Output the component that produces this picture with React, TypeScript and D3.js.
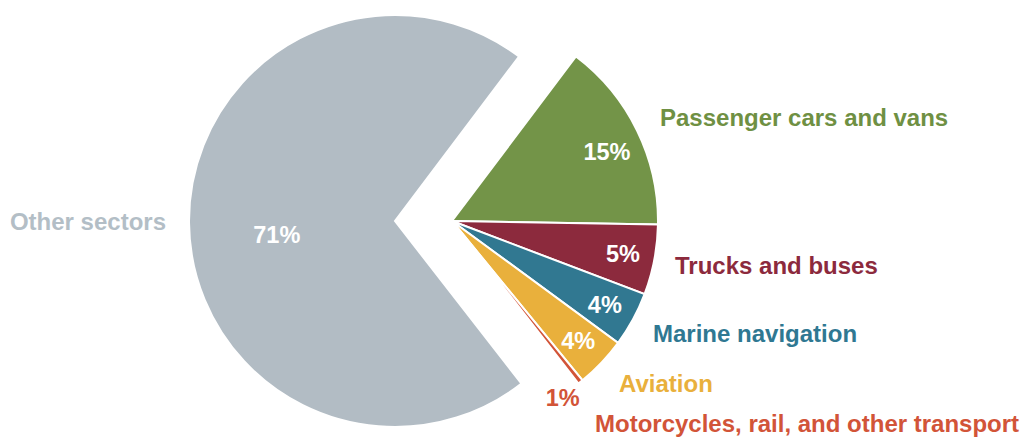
import React, { useEffect, useRef } from 'react';
import * as d3 from 'd3';

const categories = [
  'Passenger cars and vans',
  'Trucks and buses',
  'Marine navigation',
  'Aviation',
  'Motorcycles, rail, and other transport',
  'Other sectors',
];
const values = [15.0, 5.5, 4.3, 4.0, 0.4, 70.8];
const pctLabels = ['15%', '5%', '4%', '4%', '1%', '71%'];
const colors = ['#739448', '#8c2a3d', '#317891', '#e9b03c', '#d25438', '#b2bcc4'];
const textColors = ['#6f9043', '#8c2a3d', '#2f7892', '#e9b03c', '#d25438', '#b3bec6'];

const W = 1030;
const H = 437;

const App: React.FC = () => {
  const svgRef = useRef<SVGSVGElement>(null);

  useEffect(() => {
    if (!svgRef.current) return;
    const svg = d3.select(svgRef.current);
    svg.selectAll('*').remove();

    const cx = 395;
    const cy = 221;
    const r = 206;
    const explode = 57; // transport slices pulled out to the right

    const startDeg = 37;
    const pie = d3.pie<number>()
      .sort(null)
      .value(d => d)
      .startAngle((startDeg * Math.PI) / 180)
      .endAngle((startDeg * Math.PI) / 180 + Math.PI * 2);
    const arcs = pie(values);

    const arc = d3.arc<d3.PieArcDatum<number>>().innerRadius(0).outerRadius(r);

    const isOther = (i: number) => i === values.length - 1;

    const g = svg.append('g');

    g.selectAll('path.slice')
      .data(arcs)
      .join('path')
      .attr('class', 'slice')
      .attr('transform', (_, i) => `translate(${cx + (isOther(i) ? 0 : explode)},${cy})`)
      .attr('d', arc)
      .attr('fill', (_, i) => colors[i])
      .attr('stroke', '#fff')
      .attr('stroke-width', 2)
      .attr('stroke-linejoin', 'miter');

    // percentage labels
    const font = '"Liberation Sans", Arial, Helvetica, sans-serif';
    arcs.forEach((a, i) => {
      let lr = 174;
      let mid = (a.startAngle + a.endAngle) / 2;
      if (i === 0) { lr = 170; mid += 0.03; }
      if (isOther(i)) { lr = 119; mid -= 0.11; }
      const inside = i !== 4;
      if (!inside) { lr = 208; mid = a.endAngle + 0.1; }
      const ox = cx + (isOther(i) ? 0 : explode);
      const x = ox + lr * Math.sin(mid);
      const y = cy - lr * Math.cos(mid);
      g.append('text')
        .attr('x', x)
        .attr('y', y)
        .attr('dy', '0.36em')
        .attr('text-anchor', 'middle')
        .attr('font-family', font)
        .attr('font-weight', 'bold')
        .attr('font-size', 23.5)
        .attr('fill', inside ? '#fff' : textColors[i])
        .text(pctLabels[i]);
    });

    // category labels
    const labelAt: [number, number, string][] = [
      [660, 126, 'start'],
      [675, 274, 'start'],
      [653, 342, 'start'],
      [619, 392, 'start'],
      [595, 432, 'start'],
      [166, 230, 'end'],
    ];
    categories.forEach((c, i) => {
      const [x, y, anchor] = labelAt[i];
      g.append('text')
        .attr('x', x)
        .attr('y', y)
        .attr('text-anchor', anchor)
        .attr('font-family', font)
        .attr('font-weight', 'bold')
        .attr('font-size', 24)
        .attr('fill', textColors[i])
        .text(c);
    });
  }, []);

  return (
    <svg
      ref={svgRef}
      width={W}
      height={H}
      viewBox={`0 0 ${W} ${H}`}
      style={{ position: 'absolute', left: 0, top: 0, background: '#fff' }}
    />
  );
};

export default App;
